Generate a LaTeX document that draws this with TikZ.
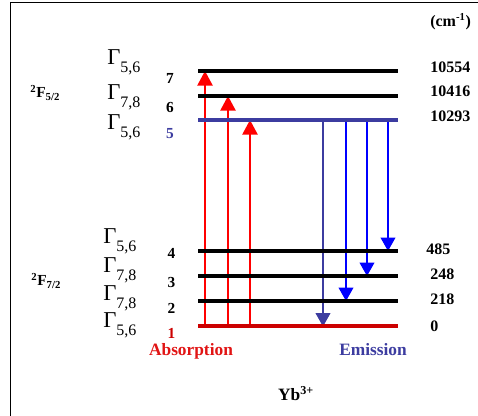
\documentclass[tikz,border=0pt]{standalone}
\usepackage{fontspec}
\setmainfont{Liberation Serif}
\usetikzlibrary{arrows.meta}
\definecolor{lvlblue}{RGB}{60,60,160}
\definecolor{lvlred}{RGB}{204,0,0}
\definecolor{absred}{RGB}{225,20,20}
\tikzset{
  lvl/.style={line width=3pt},
  uparrow/.style={red, line width=1.1pt, -{Triangle[width=11.5pt,length=11pt]}},
  downarrow/.style={blue, line width=1.1pt, -{Triangle[width=11pt,length=10pt]}},
  gam/.style={anchor=base west, inner sep=0pt, font=\fontsize{17}{17}\selectfont},
  num/.style={inner sep=0pt, font=\bfseries\fontsize{11.5}{11.5}\selectfont},
  energy/.style={anchor=west, inner sep=0pt, font=\bfseries\fontsize{12}{12}\selectfont},
  term/.style={anchor=base west, inner sep=0pt, font=\bfseries\fontsize{11.5}{11.5}\selectfont},
  caption/.style={anchor=base, inner sep=0pt, font=\bfseries\fontsize{13}{13}\selectfont}
}
\newcommand{\gsub}[1]{\raisebox{-6pt}{\fontsize{12}{12}\selectfont #1}}
\begin{document}
\begin{tikzpicture}[x=0.75pt,y=-0.75pt]
\useasboundingbox (0,0) rectangle (478,416);
% frame
\draw[line width=1.4pt] (10.5,416) -- (10.5,2.5) -- (478,2.5);
% levels
\coordinate (L7a) at (198,71);  \coordinate (L7b) at (398,71);
\coordinate (L6a) at (198,96);  \coordinate (L6b) at (398,96);
\coordinate (L5a) at (198,120); \coordinate (L5b) at (398,120);
\coordinate (L4a) at (198,251); \coordinate (L4b) at (398,251);
\coordinate (L3a) at (198,276); \coordinate (L3b) at (398,276);
\coordinate (L2a) at (198,301); \coordinate (L2b) at (398,301);
\coordinate (L1a) at (198,326.5); \coordinate (L1b) at (398,326.5);
% absorption arrows
\coordinate (a1s) at (205,326.5); \coordinate (a1e) at (205,71);
\coordinate (a2s) at (228,326.5); \coordinate (a2e) at (228,96);
\coordinate (a3s) at (250,326.5); \coordinate (a3e) at (250,120);
\draw[uparrow] (a1s) -- (a1e);
\draw[uparrow] (a2s) -- (a2e);
\draw[uparrow] (a3s) -- (a3e);
% emission arrows
\coordinate (e1s) at (323,120); \coordinate (e1e) at (323,326.5);
\coordinate (e2s) at (346,120); \coordinate (e2e) at (346,301);
\coordinate (e3s) at (367,120); \coordinate (e3e) at (367,276);
\coordinate (e4s) at (388,120); \coordinate (e4e) at (388,251);
\draw[downarrow, lvlblue] (e1s) -- (e1e);
\draw[downarrow] (e2s) -- (e2e);
\draw[downarrow] (e3s) -- (e3e);
\draw[downarrow] (e4s) -- (e4e);
% level lines
\draw[lvl] (L7a) -- (L7b);
\draw[lvl] (L6a) -- (L6b);
\draw[lvl, lvlblue] (L5a) -- (L5b);
\draw[lvl] (L4a) -- (L4b);
\draw[lvl] (L3a) -- (L3b);
\draw[lvl] (L2a) -- (L2b);
\draw[lvl, lvlred] (L1a) -- (L1b);
% Gamma labels
\node[gam] (g7) at (107,65) {Γ\gsub{5,6}};
\node[gam] (g6) at (107,99.5) {Γ\gsub{7,8}};
\node[gam] (g5) at (107,130) {Γ\gsub{5,6}};
\node[gam] (g4) at (103,243.5) {Γ\gsub{5,6}};
\node[gam] (g3) at (103,272.5) {Γ\gsub{7,8}};
\node[gam] (g2) at (103,300.5) {Γ\gsub{7,8}};
\node[gam] (g1) at (103,328) {Γ\gsub{5,6}};
% level numbers
\node[num] (n7) at (170,78) {7};
\node[num] (n6) at (170,108) {6};
\node[num, text=lvlblue] (n5) at (170,133.5) {5};
\node[num] (n4) at (171.5,253) {4};
\node[num] (n3) at (171.5,282) {3};
\node[num] (n2) at (171.5,308) {2};
\node[num, text=lvlred] (n1) at (171.5,333.5) {1};
% energies
\node[energy] (u) at (430,22) {(cm\textsuperscript{-1})};
\node[energy] (E7) at (430,67) {10554};
\node[energy] (E6) at (430,91) {10416};
\node[energy] (E5) at (430,116) {10293};
\node[energy] (E4) at (426,249) {485};
\node[energy] (E3) at (430,274) {248};
\node[energy] (E2) at (430,299) {218};
\node[energy] (E1) at (430,326) {0};
% terms
\node[term] (t1) at (30,98) {\textsuperscript{2}F\textsubscript{5/2}};
\node[term] (t2) at (31,286) {\textsuperscript{2}F\textsubscript{7/2}};
% captions
\node[caption, text=absred] (abs) at (191,356) {Absorption};
\node[caption, text=lvlblue] (emi) at (373,356) {Emission};
\node[caption] (yb) at (296,400) {Yb\textsuperscript{3+}};
\end{tikzpicture}
\end{document}
